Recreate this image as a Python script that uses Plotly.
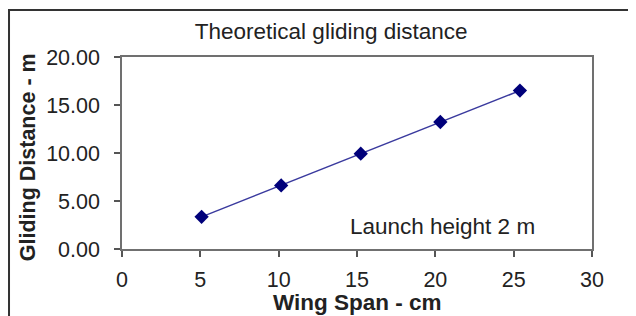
import plotly.graph_objects as go

wing_span_cm = [5.08, 10.16, 15.24, 20.32, 25.4]
gliding_distance_m = [3.35, 6.62, 9.93, 13.23, 16.5]
x_ticks = [0, 5, 10, 15, 20, 25, 30]
y_ticks = [0, 5, 10, 15, 20]

FONT = "Liberation Sans, Arial, sans-serif"
TXT = "#222222"

# page body adds an 8px margin, so the figure is 8px smaller than the window
W, H = 628, 308

fig = go.Figure()
fig.add_trace(go.Scatter(
    x=wing_span_cm, y=gliding_distance_m, mode="lines+markers",
    line=dict(color="#3a3a9e", width=1.5),
    marker=dict(symbol="diamond", size=11, color="#00007a"),
    showlegend=False,
))

fig.update_layout(
    width=W, height=H,
    margin=dict(l=114, r=44, t=49, b=67),
    paper_bgcolor="white", plot_bgcolor="white",
    font=dict(family=FONT, color=TXT),
    title=dict(text="Theoretical gliding distance", x=0.445, xref="paper",
               xanchor="center", y=1 - 23 / H, yref="container", yanchor="middle",
               font=dict(size=22.5, color=TXT)),
    showlegend=False,
)
fig.update_xaxes(
    range=[0, 30], tickvals=x_ticks, ticktext=[str(v) for v in x_ticks],
    showgrid=False, zeroline=False,
    showline=True, linecolor="#707070", linewidth=1.5, mirror=True,
    ticks="outside", ticklen=6, tickcolor="#555555", tickwidth=1.5,
    tickfont=dict(size=21.5, color=TXT), ticklabelstandoff=4,
)
fig.update_yaxes(
    range=[0, 20], tickvals=y_ticks, ticktext=[f"{v:.2f}" for v in y_ticks],
    showgrid=False, zeroline=False,
    showline=True, linecolor="#707070", linewidth=1.5, mirror=True,
    ticks="outside", ticklen=6, tickcolor="#555555", tickwidth=1.5,
    tickfont=dict(size=21.5, color=TXT), ticklabelstandoff=10,
)

# axis titles (placed as annotations so they can sit as in the reference)
fig.add_annotation(
    text="<b>Wing Span - cm</b>", xref="paper", yref="paper",
    x=0.5, y=-0.278, xanchor="center", yanchor="middle", showarrow=False,
    font=dict(size=22.5, color=TXT),
)
fig.add_annotation(
    text="<b>Gliding Distance - m</b>", xref="paper", yref="paper",
    x=-0.2, y=0.478, xanchor="center", yanchor="middle", showarrow=False,
    textangle=-90, font=dict(size=21.5, color=TXT),
)

fig.add_annotation(
    text="Launch height 2 m", xref="paper", yref="paper",
    x=0.883, y=0.115, xanchor="right", yanchor="middle", showarrow=False,
    font=dict(size=22.5, color=TXT),
)

# outer frame around the chart
fig.add_shape(
    type="rect", xref="paper", yref="paper",
    x0=-0.2404, x1=1.12, y0=-0.45, y1=1.245,
    line=dict(color="#333333", width=2), fillcolor="rgba(0,0,0,0)",
    layer="above",
)

fig.write_html("out.html")
